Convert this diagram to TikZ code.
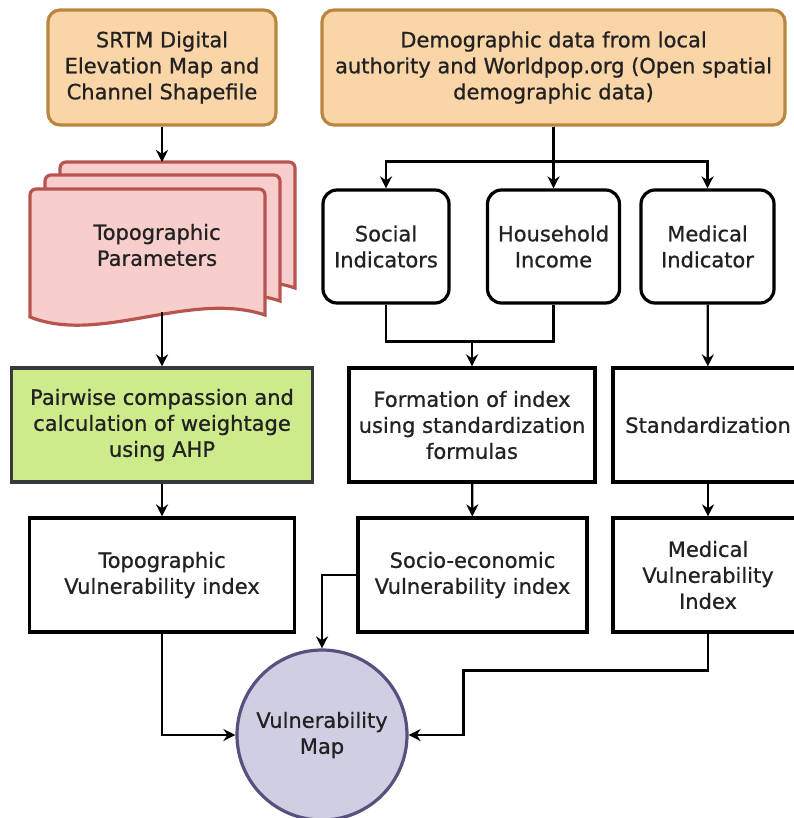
\documentclass[tikz,border=0pt]{standalone}
\usepackage{fontspec}
\setmainfont{DejaVu Sans}[UprightFeatures={FakeBold=0.8}]
\usetikzlibrary{arrows.meta,calc}
\definecolor{srcfill}{RGB}{250,213,168}
\definecolor{srcdraw}{RGB}{184,134,62}
\definecolor{docfill}{RGB}{248,206,204}
\definecolor{docdraw}{RGB}{184,84,80}
\definecolor{ahpfill}{RGB}{205,235,139}
\definecolor{ahpdraw}{RGB}{54,57,61}
\definecolor{mapfill}{RGB}{208,206,226}
\definecolor{mapdraw}{RGB}{86,81,126}
\definecolor{txt}{RGB}{34,34,34}

\begin{document}
\begin{tikzpicture}[x=1pt,y=-1pt,>={Stealth[length=12pt,width=12pt]},
                    font=\fontsize{21}{26}\selectfont,text=txt,
                    box/.style={draw,line width=3.2pt,align=center,inner sep=0pt},
                    src node/.style={box,rounded corners=12pt,fill=srcfill,draw=srcdraw,minimum height=115pt},
                    ind node/.style={box,rounded corners=14pt,minimum height=113pt},
                    proc node/.style={box,minimum height=114pt},
                    link/.style={line width=2.3pt}]
			\useasboundingbox (0,0) rectangle (793,818);
			% Stacked documents
			  \foreach \dx/\dy in {30/-27,15/-14,0/0}
			    \draw[draw=docdraw,fill=docfill,line width=3.2pt,rounded corners=6pt]
			      ({30+\dx},{317+\dy}) -- ({30+\dx},{189+\dy}) -- ({265+\dx},{189+\dy}) [sharp corners]
			      -- ({265+\dx},{315+\dy}) .. controls ({190+\dx},{290+\dy}) and ({100+\dx},{345+\dy}) .. cycle;

			% Nodes
			  \node[src node,minimum width=228pt] (srtm) at (162,67.5) {SRTM Digital\\Elevation Map and\\Channel Shapefile};
			  \node[src node,minimum width=463pt] (demo) at (553.5,67.5) {Demographic data from local\\authority and Worldpop.org (Open spatial\\demographic data)};
			  \node[align=center] (params) at (157,245) {Topographic\\Parameters};
			  \coordinate (doctop) at (162,162);
			  \coordinate (docbot) at (162,312);
			  \node[ind node,minimum width=126pt] (social) at (386,246.5) {Social\\Indicators};
			  \node[ind node,minimum width=132pt] (house) at (553.5,246.5) {Household\\Income};
			  \node[ind node,minimum width=133pt] (medical) at (707.5,246.5) {Medical\\Indicator};
			  \node[proc node,minimum width=301pt,fill=ahpfill,draw=ahpdraw] (ahp) at (162,425) {Pairwise compassion and\\calculation of weightage\\using AHP};
			  \node[proc node,minimum width=246pt] (formation) at (472,425) {Formation of index\\using standardization\\formulas};
			  \node[proc node,minimum width=190pt] (std) at (708,425) {Standardization};
			  \node[proc node,minimum width=265pt] (topo) at (162,575) {Topographic\\Vulnerability index};
			  \node[proc node,minimum width=229pt] (socio) at (472.5,575) {Socio-economic\\Vulnerability index};
			  \node[proc node,minimum width=190pt] (medvuln) at (708,575) {Medical\\Vulnerability\\Index};
			  \node[circle,draw=mapdraw,fill=mapfill,line width=3.2pt,minimum size=170pt,inner sep=0pt,align=center] (map) at (322,735) {Vulnerability\\Map};

			% Edges
			  \draw[link,->] (srtm) -- (doctop);
			  \draw[link,->,line width=3pt] (demo) -- (house);
			  \draw[link,->] (demo.south) -- ++(0,35) -| (social.north);
			  \draw[link,->] (demo.south) -- ++(0,35) -| (medical.north);
			  \draw[link] (social.south) -- ++(0,37) coordinate (merge) -| (house.south);
			  \draw[link,->] (merge -| formation.north) -- (formation.north);
			  \draw[link,->] (medical) -- (std);
			  \draw[link,->] (docbot) -- (ahp);
			  \draw[link,->] (ahp) -- (topo);
			  \draw[link,->] (formation) -- (socio);
			  \draw[link,->] (std) -- (medvuln);
			  \draw[link,->] (topo.south) |- (map.west);
			  \draw[link,->] (socio.west) -| (map.north);
			  \draw[link,->] (medvuln.south) -- ++(0,37) -| ($(map.east)+(55,0)$) -- (map.east);
\end{tikzpicture}
\end{document}
